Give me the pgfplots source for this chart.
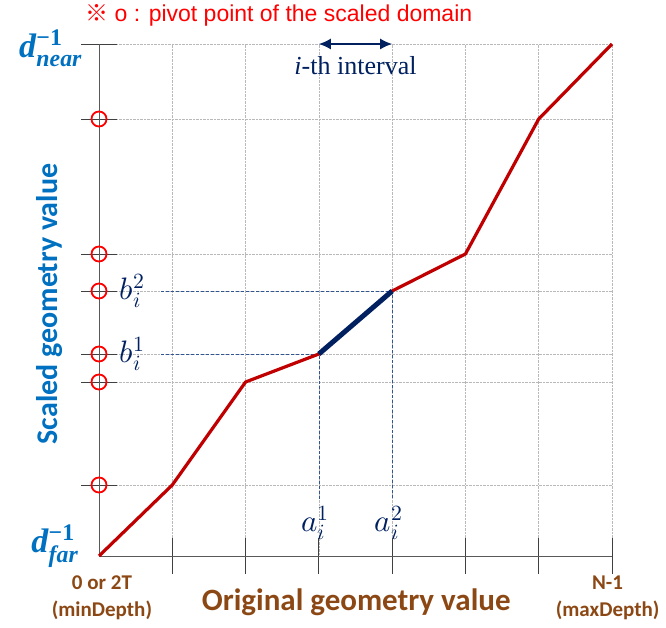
\documentclass[border=0pt]{standalone}
\usepackage{pgfplots}
\pgfplotsset{compat=1.18}
\usepackage{amsmath}
\usepackage{fontspec}
\usepackage{unicode-math}
\setmainfont{Liberation Serif}
\setmathfont{Latin Modern Math}
\newfontfamily\carlito{Carlito}
\newfontfamily\arialf{Liberation Sans}
\newfontfamily\cjk{Noto Sans CJK JP}
\usetikzlibrary{arrows.meta}
\definecolor{dred}{RGB}{192,0,0}
\definecolor{navy}{RGB}{0,32,96}
\definecolor{lblue}{RGB}{0,112,192}
\definecolor{lbrown}{RGB}{140,72,20}
\definecolor{dashb}{RGB}{47,85,151}
\begin{document}
\begin{tikzpicture}[x=1pt,y=1pt]
\useasboundingbox (0,0) rectangle (666,628);
\begin{axis}[at={(99pt,72pt)}, anchor=south west, scale only axis,
  width=513pt, height=512pt,
  xmin=0, xmax=7, ymin=0, ymax=512,
  axis lines=left,
  axis line style={-, draw=gray!70!black, line width=0.8pt},
  xtick={1,2,3,4,5,6,7},
  ytick={71,174,202,265,302,437,512},
  xticklabels={}, yticklabels={},
  tick align=center, major tick length=36pt,
  tick style={draw=gray!50!black, line width=0.8pt},
  grid=major,
  grid style={densely dotted, gray!55, line width=0.6pt},
  clip=false]
% dashed guides
\addplot[dashb, densely dashed, line width=0.6pt] coordinates {(0.85,265) (4,265) (4,56)};
\addplot[dashb, densely dashed, line width=0.6pt] coordinates {(0.85,202) (3,202) (3,56)};
% mapping curve
\addplot[dred, line width=3.2pt, line join=round] coordinates {(0,0) (1,71) (2,174) (3,202) (4,265) (5,302) (6,437) (7,512)};
\addplot[navy, line width=5pt] coordinates {(3,202) (4,265)};
% pivot circles
\addplot[only marks, mark=o, mark size=7.5pt, draw=red, mark options={line width=1.8pt}] coordinates {(0,71) (0,174) (0,202) (0,265) (0,302) (0,437)};
% interval arrow
\addplot[navy, line width=1.5pt, {Latex[length=12pt,width=11pt]}-{Latex[length=12pt,width=11pt]}] coordinates {(3,512) (4,512)};
\node[navy, font=\fontsize{26}{28}\selectfont] at (axis cs:3.5,490) {\textit{i}-th interval};
% labels
\node[navy, anchor=west, inner sep=0pt, font=\fontsize{31}{33}\selectfont] at (axis cs:0.28,265) {$b_i^2$};
\node[navy, anchor=west, inner sep=0pt, font=\fontsize{31}{33}\selectfont] at (axis cs:0.28,202) {$b_i^1$};
\node[navy, font=\fontsize{31}{33}\selectfont] at (axis cs:2.95,33) {$a_i^1$};
\node[navy, font=\fontsize{31}{33}\selectfont] at (axis cs:3.95,33) {$a_i^2$};
\node[lblue, anchor=east, inner sep=0pt, font=\fontsize{34}{36}\selectfont] at (axis cs:-0.23,508) {\textbf{\textit{d}}$^{\text{\bfseries −1}}_{\text{\bfseries\itshape near}}$};
\node[lblue, anchor=east, inner sep=0pt, font=\fontsize{34}{36}\selectfont] at (axis cs:-0.28,10) {\textbf{\textit{d}}$^{\text{\bfseries −1}}_{\text{\bfseries\itshape far}}$};
\node[lblue, rotate=90, font=\carlito\bfseries\fontsize{30}{33}\selectfont] at (axis cs:-0.67,252) {Scaled geometry value};
\node[lbrown, font=\carlito\bfseries\fontsize{31}{33}\selectfont] at (axis cs:3.51,-46) {Original geometry value};
\node[lbrown, font=\carlito\bfseries\fontsize{21}{24}\selectfont] at (axis cs:0.04,-27) {0 or 2T};
\node[lbrown, font=\carlito\bfseries\fontsize{21}{24}\selectfont] at (axis cs:0.04,-54) {(minDepth)};
\node[lbrown, font=\carlito\bfseries\fontsize{21}{24}\selectfont] at (axis cs:6.94,-27) {N-1};
\node[lbrown, font=\carlito\bfseries\fontsize{21}{24}\selectfont] at (axis cs:6.94,-54) {(maxDepth)};
\node[red, anchor=west, inner sep=0pt, font=\arialf\fontsize{23}{26}\selectfont] at (axis cs:-0.19,541) {{\cjk ※} o : pivot point of the scaled domain};
\end{axis}
\end{tikzpicture}
\end{document}
